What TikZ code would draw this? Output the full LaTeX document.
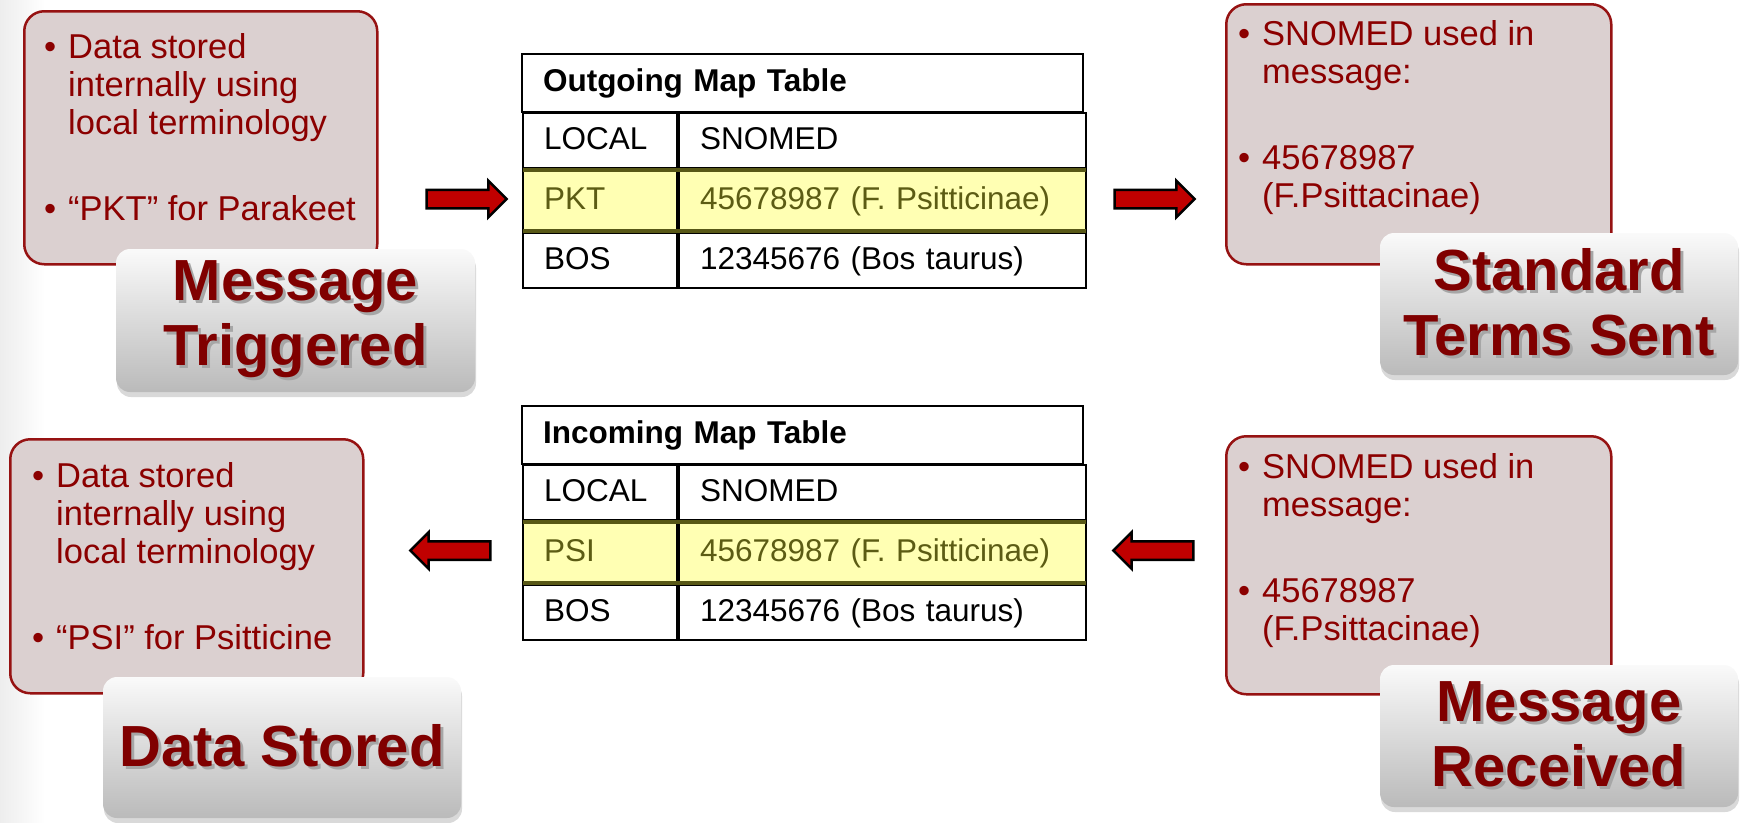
\documentclass[tikz,border=0pt]{standalone}
\usepackage{fontspec}
\setmainfont{Liberation Sans}
\usepackage{xcolor}
\usepackage{tikz}
\usetikzlibrary{matrix,shapes.arrows,shadows}

\definecolor{notefill}{RGB}{219,208,208}
\definecolor{noteline}{RGB}{150,18,18}
\definecolor{notetext}{RGB}{139,0,0}
\definecolor{titletext}{RGB}{128,0,0}
\definecolor{arrowred}{RGB}{192,0,0}
\definecolor{hlfill}{RGB}{255,255,179}
\definecolor{hlline}{RGB}{88,88,22}
\definecolor{hltext}{RGB}{92,92,20}

\newcommand\bul{\llap{\textbullet\hspace{12pt}}}
\newcommand\shtext[1]{\rlap{\kern3pt\raisebox{-3pt}{\color{black!35}#1}}#1}

\begin{document}
\begin{tikzpicture}[x=1pt,y=-1pt,
  notebox/.style={draw=noteline,fill=notefill,line width=2.5pt,rounded corners=20pt,anchor=north west,inner sep=0pt},
  notetxt/.style={anchor=north west,inner sep=0pt,align=left,text=notetext,font=\fontsize{34.5}{38}\selectfont},
  titlebox/.style={rounded corners=14pt,top color=black!2,middle color=black!9,bottom color=black!27,inner sep=0pt,align=center,text=titletext,font=\fontsize{58}{65}\selectfont\bfseries,drop shadow={shadow xshift=1pt,shadow yshift=-5pt,opacity=.3}},
  tablehead/.style={draw,line width=2pt,anchor=north west,outer sep=0pt,minimum height=58pt,text width=519pt,inner xsep=21pt,inner ysep=0pt,align=left,font=\fontsize{31.5}{36}\selectfont\bfseries},
  tablebody/.style={matrix of nodes,anchor=north west,inner sep=0pt,outer sep=0pt,column sep=0pt,row sep=0pt,
    nodes={draw,line width=2pt,outer sep=0pt,inner xsep=21pt,inner ysep=0pt,align=left,minimum height=55pt,text height=23pt,text depth=6pt,font=\fontsize{31.5}{36}\selectfont},
    column 1/.style={nodes={text width=112pt}},
    column 2/.style={nodes={text width=365pt}},
    row 2/.style={nodes={fill=hlfill,text=hltext,minimum height=61pt}}},
  hlrow/.style={draw=hlline,line width=4pt},
  blockarrow/.style={single arrow,draw=black,fill=arrowred,line width=2.5pt,minimum height=80pt,minimum width=34pt,single arrow head extend=9pt,inner xsep=0pt,inner ysep=8pt}]

\useasboundingbox (0,0) rectangle (1744,822);
\shade[left color=black!7,right color=white] (0,0) rectangle (45,822);

% outgoing side
\node[notebox,minimum width=353pt,minimum height=253pt] (trigbox) at (23,10) {};
\node[notetxt] (trigtxt) at (68,33) {\bul Data stored\\internally using\\local terminology\\[48pt]\bul “PKT” for Parakeet};
\node[titlebox,minimum width=359pt,minimum height=143pt] (trigtitle) at (295.5,320.5) {\shtext{Message}\\\shtext{Triggered}};

\node[blockarrow] (outarrowA) at (462,199) {};

\node[tablehead] (outhead) at (522,54) {Outgoing Map Table};
\matrix[tablebody] (outtab) at (outhead.south west) {
LOCAL & SNOMED \\
PKT & 45678987 (F. Psitticinae) \\
BOS & 12345676 (Bos taurus) \\
};
\draw[hlrow] (outtab-2-1.north west) -- (outtab-2-2.north east)
  (outtab-2-1.south west) -- (outtab-2-2.south east);

\node[blockarrow] (outarrowB) at (1150,199) {};

\node[notebox,minimum width=385pt,minimum height=260pt] (sentbox) at (1225,3) {};
\node[notetxt] (senttxt) at (1262,20) {\bul SNOMED used in\\message:\\[48pt]\bul 45678987\\(F.Psittacinae)};
\node[titlebox,minimum width=358pt,minimum height=142pt] (senttitle) at (1559,304) {\shtext{Standard}\\\shtext{Terms Sent}};

% incoming side
\node[notebox,minimum width=385pt,minimum height=258pt] (recvbox) at (1225,435) {};
\node[notetxt] (recvtxt) at (1262,453) {\bul SNOMED used in\\message:\\[48pt]\bul 45678987\\(F.Psittacinae)};
\node[titlebox,minimum width=358pt,minimum height=142pt] (recvtitle) at (1559,736) {\shtext{Message}\\\shtext{Received}};

\node[blockarrow,shape border rotate=180] (inarrowA) at (1158,550.5) {};

\node[tablehead] (inhead) at (522,406) {Incoming Map Table};
\matrix[tablebody] (intab) at (inhead.south west) {
LOCAL & SNOMED \\
PSI & 45678987 (F. Psitticinae) \\
BOS & 12345676 (Bos taurus) \\
};
\draw[hlrow] (intab-2-1.north west) -- (intab-2-2.north east)
  (intab-2-1.south west) -- (intab-2-2.south east);

\node[blockarrow,shape border rotate=180] (inarrowB) at (455,550.5) {};

\node[notebox,minimum width=353pt,minimum height=254pt] (storebox) at (9,438) {};
\node[notetxt] (storetxt) at (56,462) {\bul Data stored\\internally using\\local terminology\\[48pt]\bul “PSI” for Psitticine};
\node[titlebox,minimum width=358pt,minimum height=141pt] (storetitle) at (282,747.5) {\shtext{Data Stored}};
\end{tikzpicture}
\end{document}
